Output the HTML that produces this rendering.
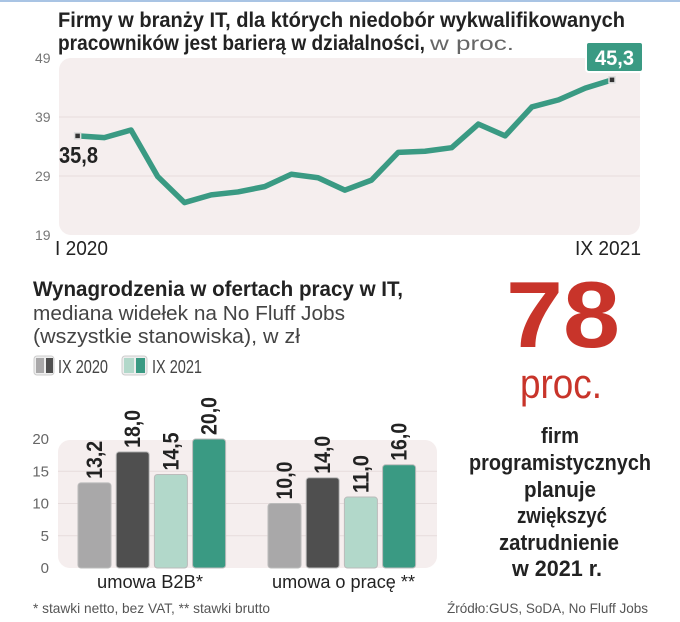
<!DOCTYPE html>
<html><head><meta charset="utf-8"><style>
body{margin:0;background:#fff}
svg{display:block;font-family:"Liberation Sans Narrow","Liberation Sans",sans-serif}
</style></head><body>
<svg id="c" width="680" height="622" viewBox="0 0 680 622" xmlns="http://www.w3.org/2000/svg">
<rect x="0" y="0" width="680" height="2" fill="#a9c4e4"/>
<text x="58" y="27" font-size="21" font-weight="bold" fill="#222" textLength="567" lengthAdjust="spacingAndGlyphs">Firmy w branży IT, dla których niedobór wykwalifikowanych</text>
<text x="58" y="50" font-size="21" font-weight="bold" fill="#222" textLength="367" lengthAdjust="spacingAndGlyphs">pracowników jest barierą w działalności,</text>
<text x="430" y="50" font-size="19" fill="#666" textLength="84" lengthAdjust="spacingAndGlyphs">w proc.</text>
<rect x="59" y="58" width="581" height="177" rx="12" fill="#f5eeee"/>
<g id="lineg"></g>
<text x="55" y="255" font-size="20" fill="#222" textLength="53" lengthAdjust="spacingAndGlyphs">I 2020</text>
<text x="641" y="255" font-size="20" fill="#222" text-anchor="end" textLength="66" lengthAdjust="spacingAndGlyphs">IX 2021</text>
<text x="59" y="163" font-size="23" font-weight="bold" fill="#222" textLength="39" lengthAdjust="spacingAndGlyphs">35,8</text>
<rect x="586" y="42" width="57" height="30" rx="3" fill="#3a9a83" stroke="#fff" stroke-width="2"/>
<text x="614.5" y="65" font-size="21" font-weight="bold" fill="#fff" text-anchor="middle" textLength="39" lengthAdjust="spacingAndGlyphs">45,3</text>

<text x="33" y="296" font-size="21" font-weight="bold" fill="#222" textLength="370" lengthAdjust="spacingAndGlyphs">Wynagrodzenia w ofertach pracy w  IT,</text>
<text x="33" y="320" font-size="20" fill="#444" textLength="312" lengthAdjust="spacingAndGlyphs">mediana widełek na No Fluff Jobs</text>
<text x="33" y="343" font-size="20" fill="#444" textLength="267" lengthAdjust="spacingAndGlyphs">(wszystkie stanowiska), w  zł</text>
<g>
<rect x="34" y="356" width="20" height="19" rx="3" fill="#eee" stroke="#ccc"/>
<rect x="36" y="358" width="8" height="15" fill="#a9a8a9"/><rect x="46" y="358" width="7" height="15" fill="#4f4f4f"/>
<text x="58" y="373" font-size="18" fill="#444" textLength="50" lengthAdjust="spacingAndGlyphs">IX 2020</text></g>
<g>
<rect x="122" y="356" width="25" height="19" rx="3" fill="#eee" stroke="#ccc"/>
<rect x="124" y="358" width="10" height="15" fill="#b2d8ca"/><rect x="136" y="358" width="9" height="15" fill="#3a9a83"/>
<text x="152" y="373" font-size="18" fill="#444" textLength="50" lengthAdjust="spacingAndGlyphs">IX 2021</text></g>
<rect x="58" y="440" width="379" height="128" rx="12" fill="#f5eeee"/>
<g id="barg"></g>
<text x="97" y="588" font-size="18" fill="#222" textLength="106" lengthAdjust="spacingAndGlyphs">umowa B2B*</text>
<text x="272" y="588" font-size="18" fill="#222" textLength="143" lengthAdjust="spacingAndGlyphs">umowa o pracę **</text>
<text x="33" y="613" font-size="14" fill="#555" textLength="237" lengthAdjust="spacingAndGlyphs">* stawki netto, bez VAT, ** stawki brutto</text>
<text x="447" y="613" font-size="14" fill="#555" textLength="201" lengthAdjust="spacingAndGlyphs">Źródło:GUS, SoDA, No Fluff Jobs</text>

<text x="563" y="347" font-size="94" font-weight="bold" fill="#c8342a" text-anchor="middle" textLength="114" lengthAdjust="spacingAndGlyphs">78</text>
<text x="561" y="398" font-size="42" fill="#c8342a" text-anchor="middle" textLength="82" lengthAdjust="spacingAndGlyphs">proc.</text>
<g font-size="22" font-weight="bold" fill="#222" text-anchor="middle">
<text x="560" y="443" textLength="38" lengthAdjust="spacingAndGlyphs">firm</text>
<text x="560" y="470" textLength="182" lengthAdjust="spacingAndGlyphs">programistycznych</text>
<text x="560" y="497" textLength="72" lengthAdjust="spacingAndGlyphs">planuje</text>
<text x="562" y="523" textLength="90" lengthAdjust="spacingAndGlyphs">zwiększyć</text>
<text x="559" y="550" textLength="120" lengthAdjust="spacingAndGlyphs">zatrudnienie</text>
<text x="557" y="576" textLength="90" lengthAdjust="spacingAndGlyphs">w 2021 r.</text>
</g>
</svg>
<script>
const lineValues=[35.8,35.5,36.8,28.9,24.5,25.8,26.3,27.2,29.3,28.7,26.6,28.3,33.0,33.2,33.8,37.8,35.8,40.7,41.9,43.9,45.3];
const lineTicks=[19,29,39,49];
const categories=['umowa B2B*','umowa o pracę **'];
const ix2020a=[13.2,10.0];
const ix2020b=[18.0,14.0];
const ix2021a=[14.5,11.0];
const ix2021b=[20.0,16.0];
const barTicks=[0,5,10,15,20];
const NS='http://www.w3.org/2000/svg';
function mk(t,a,p){const e=document.createElementNS(NS,t);for(const k in a)e.setAttribute(k,a[k]);p.appendChild(e);return e;}
const ly=v=>58+(49-v)*5.9, lx=i=>77.6+i*(612-77.6)/(lineValues.length-1);
const lg=document.getElementById('lineg');
lineTicks.forEach(t=>{
 if(t>19&&t<49){const g=mk('line',{x1:59,x2:640,y1:ly(t),y2:ly(t),stroke:'#e6dcdc','stroke-width':1},lg);
 
 }
 const tx=mk('text',{x:35,y:ly(t)+5,'font-size':14,fill:'#777'},lg);tx.textContent=t;
 
 
});
const pl=mk('polyline',{points:lineValues.map((v,i)=>lx(i)+','+ly(v)).join(' '),fill:'none',stroke:'#3a9a83','stroke-width':5.5,'stroke-linejoin':'round'},lg);


[0,lineValues.length-1].forEach(i=>{const m=mk('rect',{x:lx(i)-3,y:ly(lineValues[i])-3,width:6,height:6,fill:'#333',stroke:'#ddd','stroke-width':1.5},lg);
 
 });
const by=v=>568-v*6.45;
const bg=document.getElementById('barg');
barTicks.forEach(t=>{
 if(t>0&&t<20){const g=mk('line',{x1:58,x2:437,y1:by(t),y2:by(t),stroke:'#e6dcdc'},bg);
 
 }
 const tx=mk('text',{x:49,y:by(t)+5,'font-size':15,fill:'#666','text-anchor':'end'},bg);tx.textContent=t;
 
 
});
const series=[ix2020a,ix2020b,ix2021a,ix2021b];
const colors=['#a9a8a9','#4f4f4f','#b2d8ca','#3a9a83'];
const groupX=[78,268];
categories.forEach((c,g)=>{
 series.forEach((s,k)=>{
  const x=groupX[g]+k*38.2, v=s[g];
  const r=mk('rect',{x:x,y:by(v),width:33,height:568-by(v),rx:3,fill:colors[k],stroke:'#bbb','stroke-width':1},bg);
  
  
  const t=mk('text',{transform:'translate('+(x+24)+','+(by(v)-4)+') rotate(-90)','font-size':22,'font-weight':'bold',fill:'#222',textLength:38,lengthAdjust:'spacingAndGlyphs'},bg);
  t.textContent=v.toFixed(1).replace('.',',');
  
  
 });
});
</script>
</body></html>
